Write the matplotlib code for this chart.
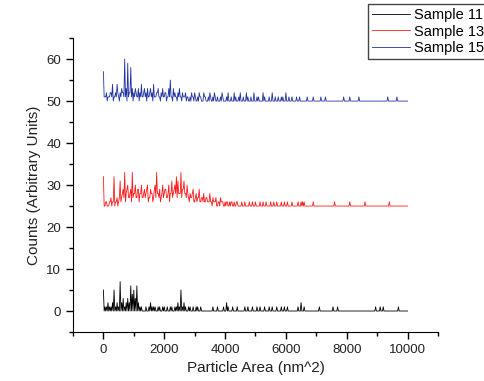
import numpy as np
import matplotlib.pyplot as plt
from matplotlib.ticker import MultipleLocator

plt.rcParams['font.family'] = ['Liberation Sans', 'DejaVu Sans']

# histogram bins (nm^2), 25 wide, 0..10000
bin_width = 25
n_bins = 401

# Sample 11 (black, baseline 0); dense counts are for every other bin (50 apart)
dense_11 = [5, 1, 1, 2, 1, 1, 2, 5, 1, 2, 1, 7, 2, 3, 1, 2, 3, 2, 6, 4,
            5, 3, 6, 2, 1, 1, 0, 0, 1, 0, 1, 2, 1, 1, 1, 0, 1, 1, 0, 1,
            1, 0, 1, 0, 1, 1, 0, 1, 1, 2, 1, 5, 1, 2, 1, 0, 1, 1, 0, 1,
            0, 1, 1, 0, 1]
sparse_x_11 = [3600, 3750, 3950, 4050, 4100, 4250, 4400, 4650, 4750, 4900,
               5050, 5150, 5300, 5450, 5550, 5700, 5850, 5950, 6050, 6400,
               6500, 6600, 7100, 7550, 7700, 8950, 9100, 9200, 9700]
sparse_y_11 = [1, 1, 1, 2, 1, 1, 1, 1, 1, 1,
               1, 1, 1, 1, 1, 1, 1, 1, 1, 1,
               2, 1, 1, 1, 1, 1, 1, 1, 1]

# Sample 13 (red, baseline 25)
dense_13 = [7, 0, 1, 0, 1, 2, 1, 7, 1, 2, 1, 6, 2, 4, 8, 3, 5, 2, 4, 8,
            3, 5, 2, 4, 3, 5, 2, 4, 3, 5, 2, 4, 3, 2, 5, 8, 3, 4, 2, 5,
            3, 4, 2, 5, 3, 6, 3, 5, 7, 6, 3, 8, 4, 6, 3, 5, 2, 3, 2, 4,
            1, 3, 2, 4, 1, 2, 3, 1, 2, 1, 3, 1, 2, 1, 2, 0, 1, 2, 1, 0,
            1, 1, 0, 1, 1, 0, 1, 0, 1, 0]
fill_13 = [0, 1, 0, 0, 1, 0, 1, 0, 1, 0, 2, 1, 3, 2, 1, 4, 2, 3, 1, 2,
           3, 2, 4, 1, 3, 2, 3, 2, 4, 1, 2, 3, 1, 4, 2, 3, 2, 1, 3, 2,
           4, 2, 3, 1, 3, 2, 4, 3, 2, 3, 3, 2, 4, 3, 2, 3, 1, 2, 3, 1,
           2, 1, 2, 1, 2, 1, 1, 2, 1, 1, 1, 0, 1, 1, 0, 1, 0, 1, 1, 0,
           0, 1, 0, 0, 1, 0, 0, 1, 0, 0]
sparse_x_13 = [4550, 4650, 4800, 4900, 5000, 5150, 5250, 5350, 5500, 5600,
               5700, 5850, 5950, 6050, 6200, 6400, 6500, 6550, 6600, 6900,
               7600, 8100, 8600, 9400]
sparse_y_13 = [1] * 24

# Sample 15 (blue, baseline 50)
dense_15 = [7, 1, 2, 1, 1, 2, 4, 1, 2, 4, 1, 2, 3, 2, 10, 3, 9, 2, 8, 3,
            2, 3, 1, 3, 2, 4, 1, 3, 2, 3, 1, 3, 2, 4, 1, 2, 3, 1, 2, 3,
            1, 2, 1, 3, 5, 1, 3, 2, 1, 2, 3, 1, 2, 1, 2, 1, 0, 1, 2, 1,
            2, 0, 1, 2, 1, 0, 2, 1, 0, 1, 2, 0, 1, 2, 0, 1, 0, 1, 2, 0]
fill_15 = [1, 1, 0, 1, 2, 1, 0, 1, 1, 2, 0, 1, 2, 1, 1, 0, 1, 2, 1, 0,
           1, 2, 1, 0, 1, 1, 2, 1, 0, 1, 2, 1, 0, 1, 1, 2, 1, 0, 1, 1,
           2, 0, 1, 1, 1, 0, 1, 1, 0, 1, 1, 0, 1, 1, 0, 1, 0, 0, 1, 0,
           1, 0, 0, 1, 0, 0, 1, 0, 0, 0, 1, 0, 0, 1, 0, 0, 0, 0, 1, 0]
sparse_x_15 = [4050, 4100, 4200, 4300, 4350, 4450, 4500, 4600, 4700, 4750,
               4850, 4950, 5050, 5100, 5250, 5300, 5450, 5550, 5650, 5750,
               5850, 5900, 6000, 6100, 6200, 6350, 6450, 6700, 6900, 7150,
               7300, 7900, 8100, 8400, 9350, 9650]
sparse_y_15 = [1, 2, 1, 2, 1, 1, 2, 1, 2, 1,
               1, 2, 1, 1, 2, 1, 1, 2, 1, 1,
               1, 1, 2, 1, 1, 1, 1, 1, 1, 1,
               1, 1, 1, 1, 1, 1]

samples = [
    ('Sample 11', dense_11, None, sparse_x_11, sparse_y_11, 0, 'black'),
    ('Sample 13', dense_13, fill_13, sparse_x_13, sparse_y_13, 25, '#ff1a1a'),
    ('Sample 15', dense_15, fill_15, sparse_x_15, sparse_y_15, 50, '#2233a0'),
]

x = np.arange(n_bins) * bin_width

fig = plt.figure(figsize=(4.85, 3.81), dpi=100)
ax = fig.add_axes([0.1505, 0.1286, 0.7525, 0.7714])

for label, dense, fill, sx, sy, offset, color in samples:
    counts = np.zeros(n_bins)
    counts[0:2 * len(dense):2] = dense
    if fill is not None:
        counts[1:2 * len(fill):2] = fill
    counts[np.array(sx) // bin_width] = sy
    ax.plot(x, counts + offset, color=color, lw=0.6, label=label)

ax.set_xlim(-1000, 11000)
ax.set_ylim(-5, 65)
ax.xaxis.set_major_locator(MultipleLocator(2000))
ax.xaxis.set_minor_locator(MultipleLocator(1000))
ax.yaxis.set_major_locator(MultipleLocator(10))
ax.yaxis.set_minor_locator(MultipleLocator(5))
ax.spines['top'].set_visible(False)
ax.spines['right'].set_visible(False)
ax.tick_params(which='major', direction='out', length=5, width=1, labelsize=9.5, labelcolor='#222222')
ax.tick_params(which='minor', direction='out', length=3, width=1)

ax.set_xlabel('Particle Area (nm^2)', fontsize=11, color='#222222')
ax.set_ylabel('Counts (Arbitrary Units)', fontsize=11, color='#222222')

fig.legend(loc='upper left', bbox_to_anchor=(368 / 485, 1 - 4 / 381), fontsize=10.5,
           frameon=True, fancybox=False, edgecolor='#444444', framealpha=1,
           borderaxespad=0, labelspacing=0.2, handlelength=2.6, handletextpad=0.3,
           borderpad=0.25)

fig.savefig('out.png', dpi=100)
